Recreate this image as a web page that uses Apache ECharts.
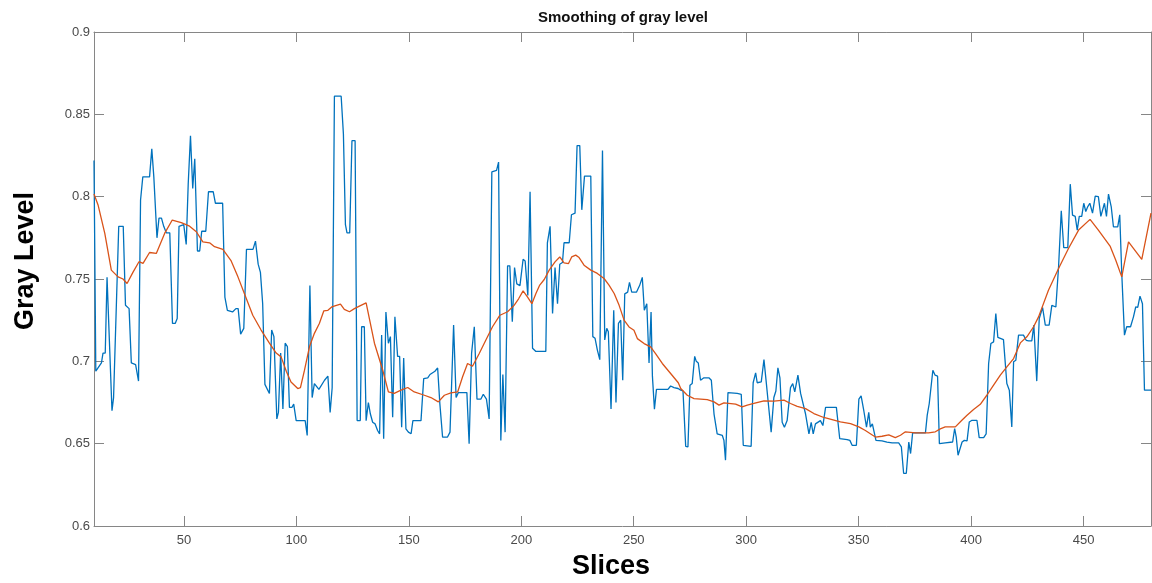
<!DOCTYPE html>
<html>
<head>
<meta charset="utf-8">
<script src="https://cdn.jsdelivr.net/npm/echarts@6/dist/echarts.min.js"></script>
<style>html,body{margin:0;padding:0;background:#fff;}#c{width:1152px;height:583px;}</style>
</head>
<body>
<div id="c"></div>
<script>
// Raw gray level (blue)
const rawSlices = [10,10.8,13.3,14,15,15.8,16.5,18,18.7,21,23,24,25.6,26.6,28.5,29.8,30.7,31.7,34.7,35.7,36.6,38,38.9,40,41,42.2,43.7,44.9,46.1,47,47.8,49.9,51,51.9,52.9,53.9,54.8,56,57,57.9,59.7,60.9,63,64,67.2,68.2,69.3,71.6,73.1,74.1,75.2,76.6,77.8,80.7,81.8,83,84,85,86,88,89,90,91.3,92,93,94,95,96,
96.9,98,98.8,99.9,103.9,104.8,106,107,108,110,112.5,114,115,115.9,116.9,119.9,120.9,121.8,122.5,123.7,124.7,126.1,127,128.4,129,130.2,131,132,132.9,133.9,135,136.1,137,137.9,138.8,139.8,140.9,141.8,142.8,143.8,145,145.9,146.8,147.7,148.7,149.8,151,151.8,155.4,156.6,158.4,159.4,161.6,162.8,163.8,165,167.2,168.3,169.9,171,172,175.8,176.8,177.9,179.1,180.3,182,183.1,184.5,185.7,186.9,189,189.9,190.9,191.8,192.8,193.9,194.9,196,197,198,199.4,200.8,201.7,202.9,203.9,205,206.5,210.9,211.6,212.8,213.9,215,216.1,217.1,218.3,219,221.3,222.3,223.9,224.8,226,226.9,228.1,230.9,231.8,232.8,233.8,234.9,236.1,237.1,238,238.7,239.9,241.1,242.1,243.2,244.2,245.1,246,247.3,248.1,249.1,251.2,252.6,253.8,254.7,255.8,256.8,257.7,258.3,259.2,260.1,265.2,266.4,267.9,
269.7,270.9,271.9,273.1,274.1,275,276,277.1,277.8,278.7,279.7,281.2,283.4,284.5,285.7,287.1,289.4,290.1,290.8,291.9,296,297.8,298.7,302.2,303.1,304.2,304.9,306.7,307.9,308.9,309.8,311.1,312.3,313.2,314.1,315,316,317,318.2,319.7,320.7,321.6,323,324.2,324.9,326.4,327.9,328.9,329.8,330.8,333,334.1,335.3,339,340.1,341.6,344.9,346.1,347.1,349,350.1,351.1,352.3,353.5,354.5,355.2,356.1,
357.7,360.4,362.6,364.9,367.8,369,370,371.2,372.3,373.1,374,379.7,380.5,381.4,382.2,383,384,385.1,385.9,388.5,391.8,392.7,393.4,394.2,394.9,396,397,398.2,399.2,400.4,402.6,403.6,405.6,406.7,407.8,408.8,410,411,411.9,414.4,415.1,415.9,417,418.1,418.9,419.9,421.1,423.3,424.5,
425.6,427,427.9,429.2,430.3,431.8,433,434.7,435.9,437.7,438.9,440.1,441.2,443,444.1,445.1,446.3,447.2,448.1,449.2,450.1,451,451.9,452.8,454,455.2,456.6,457.7,458.4,459.3,460.2,461.1,462.3,463.3,465.2,466.1,467,468.2,469.2,470.9,472.2,473.2,474.1,475.1,476.2,477.1,480];
const rawLevel = [0.822,0.694,0.699,0.705,0.705,0.751,0.751,0.670,0.678,0.782,0.782,0.734,0.732,0.699,0.698,0.688,0.798,0.812,0.812,0.829,0.812,0.775,0.787,0.787,0.782,0.778,0.778,0.723,0.723,0.726,0.782,0.783,0.771,0.808,0.837,0.805,0.823,0.767,0.767,0.779,0.779,0.803,0.803,0.796,0.796,0.739,0.731,0.730,0.732,0.732,0.7165,0.720,0.768,0.768,0.773,0.759,0.754,0.735,0.686,0.6805,0.719,0.715,0.665,0.669,0.705,0.671,0.711,0.709,
0.672,0.672,0.674,0.664,0.664,0.655,0.746,0.678,0.6865,0.683,0.6885,0.691,0.669,0.684,0.861,0.861,0.838,0.783,0.778,0.778,0.834,0.834,0.664,0.664,0.721,0.721,0.664,0.675,0.668,0.663,0.662,0.658,0.656,0.716,0.653,0.730,0.711,0.715,0.666,0.727,0.703,0.703,0.660,0.702,0.659,0.657,0.656,0.664,0.664,0.6895,0.690,0.692,0.694,0.696,0.674,0.654,0.654,0.657,0.722,0.678,0.681,0.681,0.650,0.705,0.721,0.677,0.677,0.680,0.677,0.665,0.815,0.816,0.821,0.652,0.692,0.657,0.758,0.758,0.724,0.757,0.747,0.746,0.762,0.761,0.740,0.803,0.708,0.706,0.706,0.772,0.782,0.729,0.757,0.735,0.759,0.760,0.772,0.772,0.789,0.790,0.831,0.831,0.792,0.8125,0.8125,0.715,0.714,0.707,0.701,0.828,0.713,0.720,0.718,0.671,0.731,0.675,0.723,0.725,0.6885,0.741,0.742,0.748,0.742,0.742,0.746,0.751,0.731,0.735,0.699,0.730,0.691,0.671,0.683,0.683,0.685,0.684,
0.6835,0.6825,0.682,0.6484,0.648,0.6855,0.6866,0.703,0.700,0.699,0.6885,0.690,0.690,0.6885,0.668,0.656,0.655,0.652,0.640,0.681,0.6805,0.680,0.649,0.6484,0.687,0.693,0.687,0.6875,0.701,0.6875,0.675,0.657,0.678,0.682,0.696,0.690,0.663,0.660,0.664,0.684,0.6865,0.6815,0.6916,0.6805,0.6815,0.668,0.656,0.663,0.656,0.662,0.664,0.661,0.672,0.672,0.672,0.653,0.6525,0.652,0.649,0.649,0.677,0.679,0.670,0.660,0.669,0.660,0.662,
0.652,0.6517,0.651,0.6505,0.6505,0.648,0.632,0.632,0.651,0.644,0.6565,0.6565,0.6673,0.6744,0.6748,0.6946,0.6916,0.691,0.650,0.6505,0.651,0.6592,0.654,0.643,0.644,0.651,0.652,0.6517,0.6632,0.6642,0.6642,0.6537,0.6537,0.656,0.6987,0.7108,0.7118,0.729,0.7145,0.7132,0.713,0.6865,0.6825,0.6602,0.6997,0.7007,0.7159,0.7159,0.7128,
0.7124,0.7124,0.722,0.688,0.726,0.7327,0.722,0.722,0.734,0.733,0.7574,0.7914,0.769,0.769,0.8076,0.7888,0.788,0.7797,0.788,0.788,0.796,0.791,0.794,0.796,0.790,0.8003,0.800,0.788,0.788,0.796,0.788,0.8016,0.794,0.7817,0.7817,0.789,0.7534,0.7159,0.721,0.721,0.727,0.733,0.7327,0.7396,0.735,0.6825,0.6825];

// Smoothed gray level (orange)
const smoothSlices = [10,11.8,14.8,17.7,20.7,22.9,24.7,27.3,30,31.8,34.7,37.7,41.4,44.8,48.8,52.5,55.5,58.4,61.4,63.6,67.3,71,74,76.9,80.6,84.3,88,91,93.2,95.5,97.6,100.6,101.8,103.6,105.8,108,110.2,112.2,114,115.7,119.6,121.3,123.6,125.8,128,131,134.7,138.4,140.9,143.5,146.5,149.5,152.4,156.9,159.8,163.1,165.8,168.7,171.7,173.9,176.1,178.3,181.3,184.2,187.2,190.5,193.9,196.8,198.8,200.8,202.8,204.7,206.5,208.2,210.2,212.4,215,217.1,219,221,222.4,224.2,225.7,227.9,230.9,233.8,236.8,239,241.3,243.5,245.7,247.9,250.1,251.6,254.6,257.5,259.7,262.7,266.4,269.8,270.9,273.8,276.8,282.7,285.7,287.9,290.1,295.3,298.2,300.5,303.4,307.9,312.3,316.8,319.7,322.7,326.4,330.1,334.5,338.2,341.9,346.4,350.1,353,356.4,357.5,360.4,363.4,366.3,368.6,370.8,375.2,381.1,384.1,386.3,388.5,393,395.9,398.2,401.1,404.1,407,410,413,415.9,418.9,421.9,424.8,427.8,430,434.4,438.9,443.3,447.8,452.9,456.6,461.8,464.3,467,470,475.9,480];
const smoothLevel = [0.8016,0.795,0.7777,0.7554,0.7513,0.750,0.7473,0.754,0.7605,0.7595,0.7661,0.7655,0.7777,0.7858,0.7842,0.7821,0.7787,0.7726,0.772,0.7696,0.768,0.761,0.7513,0.741,0.728,0.719,0.711,0.705,0.7027,0.694,0.6875,0.6835,0.684,0.6946,0.7088,0.717,0.723,0.7307,0.731,0.733,0.7347,0.7315,0.7301,0.732,0.7335,0.7355,0.711,0.6946,0.6814,0.6805,0.6825,0.6841,0.6814,0.6794,0.678,0.6754,0.6794,0.6808,0.6814,0.6906,0.6987,0.697,0.7048,0.7128,0.721,0.728,0.7301,0.734,0.738,0.7428,0.739,0.735,0.7412,0.7463,0.7497,0.7554,0.7604,0.7634,0.7598,0.7594,0.7634,0.7645,0.763,0.7584,0.7554,0.7534,0.7503,0.7463,0.7412,0.734,0.725,0.7209,0.7189,0.7138,0.7108,0.7088,0.7047,0.6987,0.6926,0.687,0.6835,0.6794,0.6774,0.6768,0.6754,0.6734,0.6748,0.674,0.6723,0.6734,0.6744,0.676,0.6758,0.6764,0.6744,0.6727,0.6713,0.6683,0.6659,0.6646,0.6632,0.6622,0.6602,0.658,0.655,0.654,0.6545,0.6553,0.6537,0.6551,0.6572,0.6566,0.6566,0.6572,0.659,0.6602,0.6602,0.6642,0.6673,0.6707,0.6739,0.6794,0.6855,0.6916,0.6966,0.7017,0.7112,0.7149,0.721,0.727,0.7432,0.7564,0.7685,0.7797,0.7862,0.7797,0.770,0.7615,0.7513,0.7726,0.7619,0.790];

const xTickStep = 50;
const yTicks = [0.6, 0.65, 0.7, 0.75, 0.8, 0.85, 0.9];

const titleText = 'Smoothing of gray level';
const xLabel = 'Slices';
const yLabel = 'Gray Level';

const rawData = rawSlices.map((s, i) => [s, rawLevel[i]]);
const smoothData = smoothSlices.map((s, i) => [s, smoothLevel[i]]);

const FONT = '"Liberation Sans", Arial, Helvetica, sans-serif';
const AXIS_COLOR = '#868686';
const LABEL_COLOR = '#4a4a4a';

const chart = echarts.init(document.getElementById('c'), null, {renderer: 'canvas'});
const baseX = {
  type: 'value', min: 10, max: 480, minInterval: xTickStep, maxInterval: xTickStep, splitNumber: 10,
  splitLine: {show: false},
  axisLine: {show: true, onZero: false, lineStyle: {color: AXIS_COLOR, width: 1}},
  axisTick: {show: true, inside: true, length: 10, lineStyle: {color: AXIS_COLOR}}
};
const baseY = {
  type: 'value', min: yTicks[0], max: yTicks[yTicks.length - 1], interval: 0.05,
  splitLine: {show: false},
  axisLine: {show: true, onZero: false, lineStyle: {color: AXIS_COLOR, width: 1}},
  axisTick: {show: true, inside: true, length: 10, lineStyle: {color: AXIS_COLOR}}
};
chart.setOption({
  animation: false,
  backgroundColor: '#ffffff',
  grid: {left: 94, right: 1, top: 32, bottom: 57, containLabel: false},
  xAxis: [
    Object.assign({}, baseX, {position: 'bottom',
      axisLabel: {show: true, margin: 8, color: LABEL_COLOR, fontSize: 13, fontFamily: FONT, showMinLabel: false, showMaxLabel: false}}),
    Object.assign({}, baseX, {position: 'top', axisLabel: {show: false}})
  ],
  yAxis: [
    Object.assign({}, baseY, {position: 'left',
      axisLabel: {show: true, margin: 4, color: LABEL_COLOR, fontSize: 13, fontFamily: FONT,
        formatter: v => String(Math.round(v * 100) / 100)}}),
    Object.assign({}, baseY, {position: 'right', axisLabel: {show: false}})
  ],
  series: [
    {type: 'line', name: 'raw', xAxisIndex: 0, yAxisIndex: 0, data: rawData, showSymbol: false, symbol: 'none',
      lineStyle: {color: '#0072BD', width: 1.3}, itemStyle: {color: '#0072BD'}, z: 2},
    {type: 'line', name: 'smooth', xAxisIndex: 0, yAxisIndex: 0, data: smoothData, showSymbol: false, symbol: 'none',
      lineStyle: {color: '#D95319', width: 1.3}, itemStyle: {color: '#D95319'}, z: 3}
  ],
  graphic: [
    {type: 'text', x: 623, y: 18, style: {text: titleText, fill: '#111', font: 'bold 15px ' + FONT, align: 'center', verticalAlign: 'middle'}},
    {type: 'text', x: 611, y: 567, style: {text: xLabel, fill: '#000', font: 'bold 27px ' + FONT, align: 'center', verticalAlign: 'middle'}},
    {type: 'text', x: 26, y: 261, rotation: Math.PI / 2, style: {text: yLabel, fill: '#000', font: 'bold 27px ' + FONT, align: 'center', verticalAlign: 'middle'}}
  ]
});
</script>
</body>
</html>
